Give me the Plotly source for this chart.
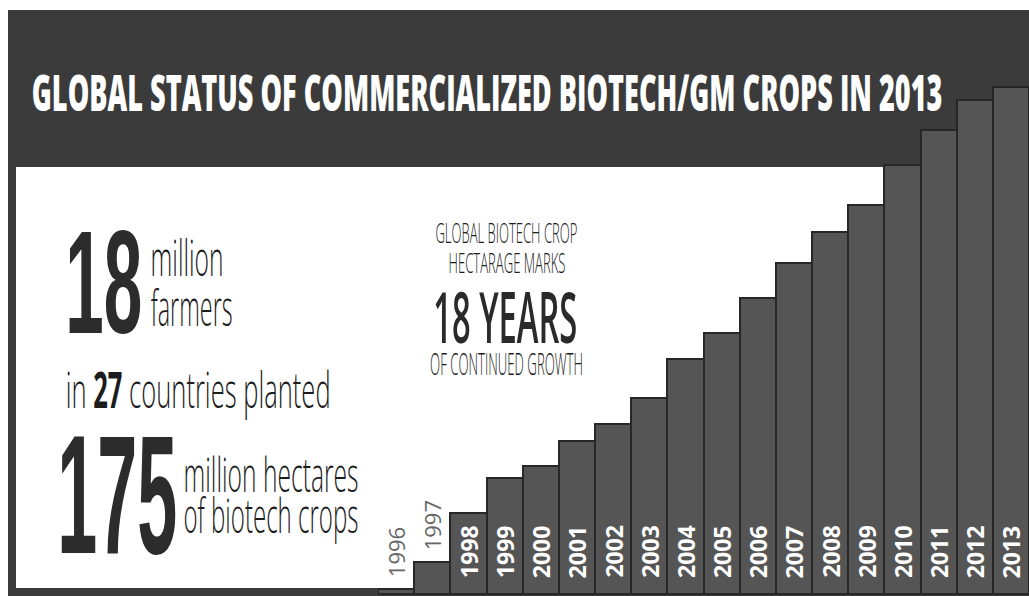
import json
import plotly.graph_objects as go

W, H = 1029, 596

# Global biotech crop area, million hectares
years = [str(y) for y in range(1996, 2014)]
hectares = [1.7, 11.0, 27.8, 39.9, 44.2, 52.6, 58.7, 67.7, 81.0,
            90.0, 102.0, 114.3, 125.0, 134.0, 148.0, 160.0, 170.3, 175.0]
# years whose label sits above a short bar instead of inside it
outside_years = ["1996", "1997"]

title_text = "GLOBAL STATUS OF COMMERCIALIZED BIOTECH/GM CROPS IN 2013"

BAND = "#3b3b3b"
BAR = "#555555"
BAR_EDGE = "#272727"
INK = "#1c1c1c"
SANS = "Open Sans"
FIGURES = "Liberation Sans"   # compact line box for the oversized numbers

# vertical offset of the glyph middle below the line-box middle, in em
GLYPH_OFFSET = {
    (SANS, True): 0.031,
    (SANS, False): 0.008,
    (FIGURES, True): -0.0115,
}


def fx(x):
    return x / W


def fy(y):
    return 1 - y / H


fig = go.Figure()

fig.add_trace(go.Bar(
    x=years, y=hectares,
    marker=dict(color=BAR, line=dict(color=BAR_EDGE, width=2)),
    hoverinfo="x+y",
))

# px per million hectares and baseline offset for the value axis
scale = 2.9
base_px = 2.0
y0 = -base_px / scale
y1 = y0 + H / scale

shapes = [
    dict(type="rect", xref="paper", yref="paper", layer="below",
         x0=fx(8), x1=1.0, y0=0.0, y1=fy(10),
         fillcolor=BAND, line=dict(width=0)),
    dict(type="rect", xref="paper", yref="paper", layer="below",
         x0=fx(16), x1=fx(885), y0=fy(588), y1=fy(167),
         fillcolor="white", line=dict(width=0)),
]

annotations = []
fit_widths = []


def text(t, cx, cy, size, color=INK, weight=300, width=None, caps=True,
         family=SANS):
    # cy is the middle of the cap/ascender height; move to the line box centre
    shift = GLYPH_OFFSET[(family, caps)] * size
    annotations.append(dict(
        text=t, xref="paper", yref="paper", x=fx(cx), y=fy(cy - shift),
        xanchor="center", yanchor="middle", showarrow=False,
        font=dict(family=family, size=size, color=color, weight=weight),
    ))
    fit_widths.append(width)


text(title_text, 487, 94, 50, color="white", weight=800, width=911)

text("18", 103.5, 280.5, 147, color="#2c2c2c", weight=700, width=77,
     family=FIGURES)
text("million", 186.5, 257, 50, width=73, caps=False)
text("farmers", 191, 307, 50, width=82, caps=False)
text("in <b>27</b> countries planted", 197.5, 389, 50, width=265, caps=False)
text("175", 117, 493, 168, color="#2c2c2c", weight=700, width=120,
     family=FIGURES)
text("million hectares", 270.5, 474, 47, width=175, caps=False)
text("of biotech crops", 270.5, 515, 47, width=175, caps=False)

text("GLOBAL BIOTECH CROP", 506, 233, 28, width=142)
text("HECTARAGE MARKS", 506.5, 263, 28, width=117)
text("18 YEARS", 505, 317.5, 71, color="#2a2a2a", weight=600, width=144)
text("OF CONTINUED GROWTH", 506.5, 364, 31, width=153)

# year labels, rotated, inside the bars or above the short ones
for i, (yr, v) in enumerate(zip(years, hectares)):
    outside = yr in outside_years
    annotations.append(dict(
        text=yr, xref="x", yref="y", x=i, y=v if outside else 0,
        xanchor="center", yanchor="bottom", yshift=10 if outside else 14,
        textangle=-90, showarrow=False,
        font=dict(family=SANS, size=22 if outside else 23,
                  color="#666666" if outside else "white",
                  weight=400 if outside else 700),
    ))
    fit_widths.append(None)

fig.update_layout(
    width=W, height=H,
    margin=dict(l=0, r=0, t=0, b=0),
    paper_bgcolor="white", plot_bgcolor="rgba(0,0,0,0)",
    showlegend=False, bargap=0,
    shapes=shapes, annotations=annotations,
    xaxis=dict(type="category", domain=[fx(378), 1.0], range=[-0.5, 17.5],
               visible=False, fixedrange=True),
    yaxis=dict(domain=[0, 1], range=[y0, y1],
               visible=False, fixedrange=True),
)

# Condense the lettering horizontally to each label's set width.
squeeze_js = """
(function(){
  var gd = document.getElementById('{plot_id}');
  var fit = FIT;
  function squeeze(){
    gd.querySelectorAll('g.annotation').forEach(function(g){
      var w = fit[+g.getAttribute('data-index')];
      if (!w) return;
      var t = g.querySelector('text.annotation-text');
      t.removeAttribute('transform');
      var b = t.getBBox();
      var cx = b.x + b.width / 2;
      var s = w / b.width;
      t.setAttribute('transform', 'translate(' + cx + ',0) scale(' + s + ',1) translate(' + (-cx) + ',0)');
    });
  }
  squeeze();
  gd.on('plotly_afterplot', squeeze);
})();
""".replace("FIT", json.dumps(fit_widths))

fig.write_html("out.html", post_script=squeeze_js,
               config={"displayModeBar": False})
